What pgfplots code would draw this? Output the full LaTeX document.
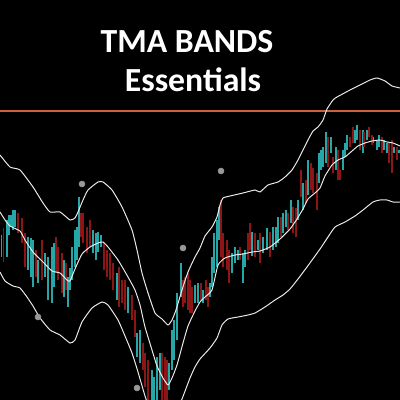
\documentclass[border=0pt]{standalone}
\usepackage{pgfplots}
\pgfplotsset{compat=1.18}
\usepackage{fontspec}
\setmainfont{Carlito}
\definecolor{tealbar}{RGB}{38,166,166}
\definecolor{redbar}{RGB}{140,22,22}
\definecolor{hline}{RGB}{205,95,60}
\begin{document}
\begin{tikzpicture}
\fill[black] (0,0) rectangle (10cm,10cm);
\begin{axis}[at={(0,0)}, anchor=south west, scale only axis, width=10cm, height=10cm,
  xmin=0, xmax=400, ymin=0, ymax=400, y dir=reverse, hide axis, clip=true,
  unbounded coords=jump]
% teal bars
\addplot[tealbar, line width=1.1pt] coordinates {
(1.7,235) (1.7,257) (1.7,nan)
(7,220) (7,257) (7,nan)
(9,215) (9,235) (9,nan)
(11,215) (11,227) (11,nan)
(13,210) (13,230) (13,nan)
(15,210) (15,227) (15,nan)
(28,237) (28,270) (28,nan)
(31,238) (31,277) (31,nan)
(33,240) (33,287) (33,nan)
(38,260) (38,283) (38,nan)
(45,253) (45,277) (45,nan)
(48,257) (48,300) (48,nan)
(52,247) (52,303) (52,nan)
(54,243) (54,287) (54,nan)
(64,260) (64,297) (64,nan)
(68,277) (68,307) (68,nan)
(70,268) (70,290) (70,nan)
(72,247) (72,280) (72,nan)
(75,230) (75,267) (75,nan)
(77,227) (77,260) (77,nan)
(79,197) (79,247) (79,nan)
(93,230) (93,253) (93,nan)
(96,233) (96,260) (96,nan)
(98,232) (98,252) (98,nan)
(101,235) (101,247) (101,nan)
(117,273) (117,300) (117,nan)
(128,287) (128,313) (128,nan)
(137,333) (137,357) (137,nan)
(140,330) (140,363) (140,nan)
(152,370) (152,400) (152,nan)
(154,377) (154,400) (154,nan)
(157,357) (157,400) (157,nan)
(160,353) (160,390) (160,nan)
(169,363) (169,390) (169,nan)
(172,330) (172,370) (172,nan)
(174,320) (174,360) (174,nan)
(177,293) (177,340) (177,nan)
(181,263) (181,297) (181,nan)
(195,285) (195,303) (195,nan)
(198,283) (198,303) (198,nan)
(203,290) (203,303) (203,nan)
(210,283) (210,297) (210,nan)
(212,257) (212,287) (212,nan)
(214,233) (214,273) (214,nan)
(217,220) (217,267) (217,nan)
(219,207) (219,240) (219,nan)
(232,253) (232,273) (232,nan)
(235,247) (235,263) (235,nan)
(238,250) (238,260) (238,nan)
(243,253) (243,283) (243,nan)
(245,250) (245,267) (245,nan)
(252,232) (252,256) (252,nan)
(258,240) (258,250) (258,nan)
(263,237) (263,253) (263,nan)
(267,228) (267,250) (267,nan)
(273,227) (273,250) (273,nan)
(276,227) (276,247) (276,nan)
(278,217) (278,243) (278,nan)
(283,213) (283,233) (283,nan)
(286,210) (286,227) (286,nan)
(291,200) (291,223) (291,nan)
(298,200) (298,220) (298,nan)
(303,183) (303,210) (303,nan)
(308,160) (308,195) (308,nan)
(319,153) (319,183) (319,nan)
(321,150) (321,170) (321,nan)
(323,147) (323,167) (323,nan)
(326,132) (326,163) (326,nan)
(331,137) (331,153) (331,nan)
(336,147) (336,170) (336,nan)
(343,150) (343,170) (343,nan)
(345,143) (345,157) (345,nan)
(347,135) (347,150) (347,nan)
(355,130) (355,143) (355,nan)
(357,125) (357,140) (357,nan)
(363,130) (363,153) (363,nan)
(367,130) (367,140) (367,nan)
(373,137) (373,143) (373,nan)
(377,140) (377,150) (377,nan)
(379,135) (379,147) (379,nan)
(384,140) (384,150) (384,nan)
(387,143) (387,153) (387,nan)
(394,147) (394,153) (394,nan)
(399,150) (399,153)
};
% red bars
\addplot[redbar, line width=1.1pt] coordinates {
(3.3,228) (3.3,262) (3.3,nan)
(18,213) (18,233) (18,nan)
(22,218) (22,243) (22,nan)
(25,233) (25,267) (25,nan)
(36,250) (36,277) (36,nan)
(42,240) (42,280) (42,nan)
(56,237) (56,273) (56,nan)
(58,247) (58,280) (58,nan)
(62,253) (62,293) (62,nan)
(66,263) (66,290) (66,nan)
(81,213) (81,237) (81,nan)
(83,213) (83,243) (83,nan)
(87,227) (87,253) (87,nan)
(90,220) (90,247) (90,nan)
(104,243) (104,270) (104,nan)
(107,250) (107,277) (107,nan)
(110,253) (110,280) (110,nan)
(113,263) (113,290) (113,nan)
(119,267) (119,307) (119,nan)
(122,280) (122,303) (122,nan)
(125,280) (125,310) (125,nan)
(132,295) (132,320) (132,nan)
(135,310) (135,337) (135,nan)
(143,343) (143,370) (143,nan)
(145,353) (145,387) (145,nan)
(148,360) (148,400) (148,nan)
(162,353) (162,400) (162,nan)
(165,357) (165,400) (165,nan)
(167,360) (167,400) (167,nan)
(183,280) (183,307) (183,nan)
(185,277) (185,303) (185,nan)
(188,273) (188,310) (188,nan)
(190,280) (190,313) (190,nan)
(192,287) (192,313) (192,nan)
(201,283) (201,300) (201,nan)
(206,280) (206,300) (206,nan)
(208,287) (208,307) (208,nan)
(221,200) (221,257) (221,nan)
(223,233) (223,267) (223,nan)
(227,240) (227,270) (227,nan)
(229,250) (229,283) (229,nan)
(240,247) (240,260) (240,nan)
(248,233) (248,260) (248,nan)
(250,223) (250,250) (250,nan)
(255,233) (255,257) (255,nan)
(260,233) (260,263) (260,nan)
(270,232) (270,257) (270,nan)
(281,217) (281,237) (281,nan)
(288,213) (288,230) (288,nan)
(293,207) (293,233) (293,nan)
(296,208) (296,237) (296,nan)
(301,170) (301,197) (301,nan)
(306,180) (306,203) (306,nan)
(311,163) (311,190) (311,nan)
(313,168) (313,193) (313,nan)
(317,173) (317,210) (317,nan)
(328,137) (328,167) (328,nan)
(333,157) (333,173) (333,nan)
(338,150) (338,180) (338,nan)
(340,170) (340,180) (340,nan)
(350,137) (350,147) (350,nan)
(353,127) (353,143) (353,nan)
(360,130) (360,150) (360,nan)
(364,132) (364,147) (364,nan)
(369,127) (369,137) (369,nan)
(372,135) (372,145) (372,nan)
(382,137) (382,153) (382,nan)
(389,143) (389,163) (389,nan)
(392,140) (392,173) (392,nan)
(397,147) (397,160)
};
% horizontal line
\addplot[hline, line width=1.2pt] coordinates {(0,110.7) (400,110.7)};
% upper band
\addplot[white!92!black, line width=0.7pt, smooth, tension=0.3] coordinates {
(0,155) (10,167) (20,170) (33,187) (43,203) (50,212) (60,212) (70,220) (75,218)
(78,212) (83,200) (88,190) (98,182) (103,182) (112,190) (122,207) (132,230)
(137,250) (142,273) (148,293) (155,313) (162,319) (168,325) (172,320) (176,310)
(182,290) (188,272) (195,257) (200,248) (205,236) (212,227) (217,217) (220,205)
(223,198) (230,196) (243,193) (255,190) (260,192) (268,185) (278,182) (285,177)
(292,170) (298,160) (303,150) (308,140) (313,131) (318,127) (323,120) (327,109)
(333,100) (337,97) (350,90) (360,85) (370,80) (377,78) (385,81) (392,86) (400,88)
};
% middle line
\addplot[white!92!black, line width=0.7pt, smooth, tension=0.3] coordinates {
(0,212) (5,220) (10,226) (20,231) (25,240) (33,252) (43,262) (52,271) (60,273)
(67,280) (70,281) (75,269) (82,254) (90,247) (98,243) (103,242) (108,247)
(118,260) (128,277) (135,290) (140,305) (145,327) (152,350) (157,366) (163,378)
(168,385) (172,378) (177,365) (183,343) (188,326) (195,311) (200,302) (205,297)
(212,290) (218,265) (225,258) (235,255) (243,254) (252,252) (260,251) (270,247)
(280,239) (290,229) (297,219) (303,209) (308,199) (315,193) (320,188) (325,176)
(332,165) (338,160) (345,157) (352,151) (358,146) (365,143) (372,141) (380,140)
(387,142) (393,143) (400,146)
};
% lower band
\addplot[white!92!black, line width=0.7pt, smooth, tension=0.3] coordinates {
(0,272) (5,281) (13,286) (20,288) (27,297) (33,306) (40,318) (50,330) (60,335)
(70,343) (75,340) (82,322) (92,308) (102,302) (108,305) (118,320) (125,336)
(132,353) (138,372) (145,396) (150,410) (163,440) (176,412) (182,399) (190,378)
(195,367) (200,359) (210,348) (217,338) (222,325) (228,319) (238,317) (248,315)
(255,313) (265,307) (275,300) (283,295) (290,289) (298,279) (307,267) (315,256)
(320,249) (328,237) (335,227) (345,222) (355,216) (363,210) (373,202) (380,200)
(387,200) (393,202) (400,202)
};
% gray dots
\addplot[only marks, mark=*, mark size=2.1pt, color=gray!80, mark options={draw=none, fill=black!40!white}] coordinates {
(82,184) (221,171) (183,248) (38,317) (137,388)
};
\node[white, font=\bfseries\fontsize{24}{28}\selectfont, anchor=base] at (axis cs:187,53) {TMA BANDS};
\node[white, font=\bfseries\fontsize{24}{28}\selectfont, anchor=base] at (axis cs:193,92) {Essentials};
\end{axis}
\end{tikzpicture}
\end{document}
